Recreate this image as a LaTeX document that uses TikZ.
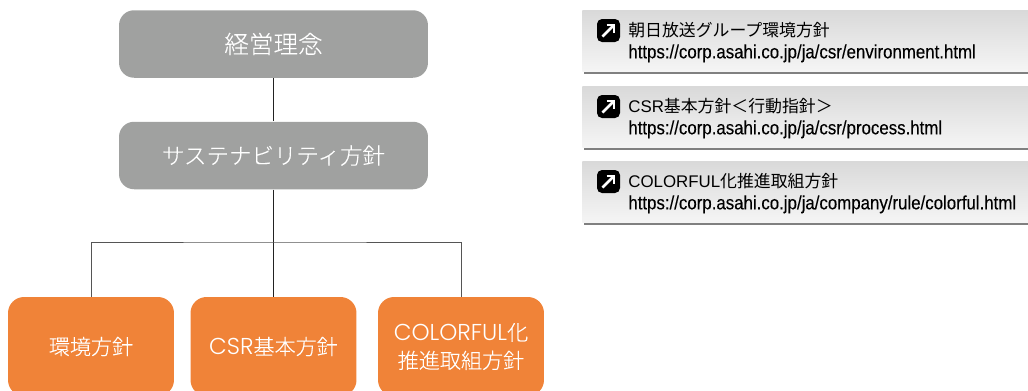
\documentclass[tikz,border=0pt]{standalone}
\usepackage{fontspec}
\usepackage{xcolor}
\usetikzlibrary{calc}
\setmainfont{Noto Sans CJK JP}
\newfontfamily\lightfont[FakeBold=0.12]{Noto Sans CJK JP Light}
\newfontfamily\latfont{Liberation Sans}
\newfontfamily\urlfont[FakeStretch=0.88,FakeBold=0.2]{Liberation Sans}
\newfontfamily\thinfont[Scale=1.09]{Poppins Light}
\definecolor{boxgray}{HTML}{A0A1A0}
\definecolor{boxorange}{HTML}{F08338}
\definecolor{linedark}{HTML}{222222}
\definecolor{linegray}{HTML}{555555}
\definecolor{paneltop}{HTML}{D9D9D9}
\definecolor{panelbot}{HTML}{F5F5F5}
\definecolor{panelrule}{HTML}{808080}
\tikzset{
  main/.style={fill=boxgray, rounded corners=0.3cm, minimum width=6.18cm, minimum height=1.35cm, inner sep=0pt, text=white, font=\lightfont\fontsize{14}{17}\selectfont},
  leaf/.style={fill=boxorange, rounded corners=0.32cm, minimum width=3.32cm, minimum height=1.98cm, inner sep=0pt, text=white, align=center, font=\lightfont\fontsize{12}{16}\selectfont},
  link/.style={draw=linedark, line width=0.55pt},
  branch/.style={draw=linegray, line width=0.55pt},
  panel/.style={top color=paneltop, bottom color=panelbot, minimum width=8.92cm, minimum height=1.22cm, inner sep=0pt, anchor=north west},
  rulebar/.style={draw=panelrule, line width=1.1pt},
  icon/.style={fill=black, rounded corners=0.1cm, minimum size=0.46cm, inner sep=0pt},
  arrowmark/.style={draw=white, line width=1.5pt},
  head/.style={anchor=base west, inner sep=0pt, font=\fontsize{9.6}{11}\selectfont},
  url/.style={anchor=base west, inner sep=0pt, font=\urlfont\fontsize{10.9}{12}\selectfont},
}
\begin{document}
\begin{tikzpicture}[x=0.02cm,y=-0.02cm]
  \useasboundingbox (0,0) rectangle (1028,390);
  \node[main] (rinen) at (273.5,44) {経営理念};
  \node[main] (hoshin) at (273.5,155.5) {\fontsize{12.8}{15}\selectfont サステナビリティ方針};
  \node[leaf] (kankyo) at (91,346.5) {環境方針};
  \node[leaf] (csr) at (273.5,346.5) {{\thinfont CSR}基本方針};
  \node[leaf] (color) at (461,346.5) {{\thinfont COLORFUL}化\\推進取組方針};
  \coordinate (fork) at (273.5,242);
  \draw[link] (rinen) -- (hoshin);
  \draw[link] (hoshin) -- (csr);
  \draw[branch] (kankyo.north) |- (fork) -| (color.north);
  % link panels on the right
  \foreach \nm/\py/\ttl/\adr in {
    a/10/{朝日放送グループ環境方針}/{https://corp.asahi.co.jp/ja/csr/environment.html},
    b/86/{{\latfont CSR}基本方針＜行動指針＞}/{https://corp.asahi.co.jp/ja/csr/process.html},
    c/161/{{\latfont COLORFUL}化推進取組方針}/{https://corp.asahi.co.jp/ja/company/rule/colorful.html}} {
    \node[panel] (p\nm) at (582,\py) {};
    \draw[rulebar] ($(p\nm.south west)+(2,1)$) -- ($(p\nm.south east)+(0,1)$);
    \node[icon] (i\nm) at (608.5,\py+20.5) {};
    \draw[arrowmark] ($(i\nm)+(-6,6)$) -- ($(i\nm)+(5.5,-5.5)$);
    \draw[arrowmark] ($(i\nm)+(-2,-5.5)$) -- ($(i\nm)+(5.5,-5.5)$) -- ($(i\nm)+(5.5,2)$);
    \node[head] (t\nm) at (628,\py+26.5) {\ttl};
    \node[url] (u\nm) at (628,\py+48.3) {\adr};
  }
\end{tikzpicture}
\end{document}
